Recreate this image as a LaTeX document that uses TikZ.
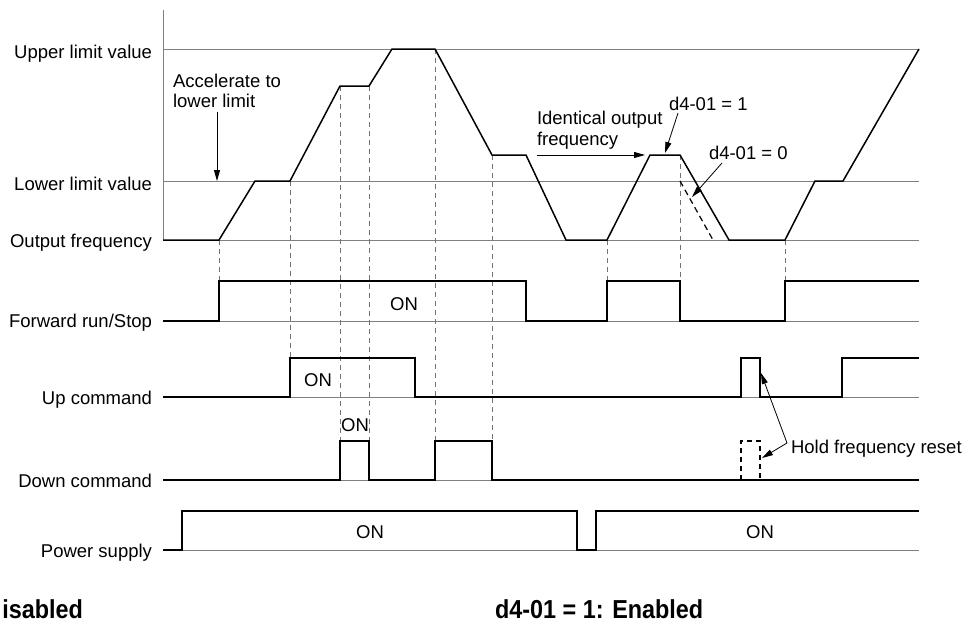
\documentclass[tikz,border=0pt]{standalone}
\usepackage{fontspec}
\setmainfont{Liberation Sans}
\usepackage{graphicx}
\usetikzlibrary{arrows.meta}
\definecolor{refgray}{gray}{0.5}
\definecolor{dashgray}{gray}{0.45}
\begin{document}
\begin{tikzpicture}[x=1pt,y=-1pt,
  every node/.style={font=\fontsize{18.5}{21}\selectfont, inner sep=0pt, outer sep=0pt},
  refline/.style={draw=refgray, line width=0.9pt},
  trace/.style={draw=black, line width=1.5pt, line join=miter},
  guide/.style={draw=dashgray, line width=0.9pt, dash pattern=on 5pt off 4pt},
  altpath/.style={draw=black, line width=1.2pt, dash pattern=on 6pt off 4pt},
  arr/.style={draw=black, line width=0.8pt, -{Triangle[length=11pt,width=6pt]}},
  rowlabel/.style={anchor=base east},
  onlabel/.style={anchor=center},
  note/.style={align=left, anchor=north west},
  footer/.style={font=\bfseries\fontsize{26}{28}\selectfont}
]
\useasboundingbox (0,0) rectangle (963,624);

% reference lines
\draw[refline] (163,10) -- (163,240);
\foreach \yy in {49,181,240,321,397,480,550}
  \draw[refline] (163,\yy) -- (919,\yy);

% row labels
\node[rowlabel] (lupper) at (152,58) {Upper limit value};
\node[rowlabel] (llower) at (152,190) {Lower limit value};
\node[rowlabel] (lout)   at (152,247) {Output frequency};
\node[rowlabel] (lfwd)   at (152,327) {Forward run/Stop};
\node[rowlabel] (lup)    at (152,404) {Up command};
\node[rowlabel] (ldown)  at (152,487) {Down command};
\node[rowlabel] (lpow)   at (152,557) {Power supply};

% guide dashed verticals
\draw[guide] (219,240) -- (219,281);
\draw[guide] (290,181) -- (290,358);
\draw[guide] (340,86) -- (340,441);
\draw[guide] (369,86) -- (369,441);
\draw[guide] (435,49) -- (435,441);
\draw[guide] (492,155) -- (492,441);
\draw[guide] (607,240) -- (607,281);
\draw[guide] (680,155) -- (680,281);
\draw[guide] (785,240) -- (785,281);

% output frequency trace
\draw[trace] (163,240) -- (219,240) -- (255,181) -- (290,181) -- (340,86) -- (369,86)
  -- (392,49) -- (435,49) -- (492,155) -- (526,155) -- (566,240) -- (607,240)
  -- (650,155) -- (680,155) -- (729,240) -- (785,240) -- (815,181) -- (843,181) -- (919,49);
\draw[altpath] (680,181) -- (713,240);

% forward run / stop
\draw[trace] (163,321) -- (219,321) -- (219,281) -- (526,281) -- (526,321) -- (607,321)
  -- (607,281) -- (680,281) -- (680,321) -- (785,321) -- (785,281) -- (919,281);
% up command
\draw[trace] (163,397) -- (290,397) -- (290,358) -- (415,358) -- (415,397) -- (741,397)
  -- (741,358) -- (760,358) -- (760,397) -- (842,397) -- (842,358) -- (919,358);
% down command
\draw[trace] (163,480) -- (340,480) -- (340,441) -- (369,441) -- (369,480) -- (435,480)
  -- (435,441) -- (492,441) -- (492,480) -- (919,480);
\draw[draw=black, line width=1.2pt, dash pattern=on 5pt off 4pt] (741,480) -- (741,441) -- (760,441) -- (760,480);
% power supply
\draw[trace] (163,550) -- (182,550) -- (182,511) -- (577,511) -- (577,550) -- (596,550)
  -- (596,511) -- (919,511);

% ON labels
\node[onlabel] (onfwd)  at (404,304) {ON};
\node[onlabel] (onup)   at (318,380) {ON};
\node[onlabel] (ondown) at (355,425) {ON};
\node[onlabel] (onpow1) at (370,532) {ON};
\node[onlabel] (onpow2) at (760,532) {ON};

% annotations
\node[note] (acc) at (173,74) {Accelerate to\\[-1pt]lower limit};
\coordinate (accTip) at (217,181);
\draw[arr] ([yshift=-4pt]acc.south -| accTip) -- (accTip);

\node[note] (ident) at (537,111) {Identical output\\frequency};
\coordinate (identTip) at (645,155);
\draw[arr] (ident.west |- identTip) -- (identTip);

\node[anchor=base west] (d1) at (669,110) {d4-01 = 1};
\coordinate (d1Tip) at (665,153);
\draw[arr] (678,113) -- (d1Tip);

\node[anchor=base west] (d0) at (709,159) {d4-01 = 0};
\coordinate (d0Tip) at (692,197);
\draw[arr] (722,163) -- (d0Tip);

\node[anchor=base west] (hold) at (791,453) {Hold frequency reset};
\coordinate (holdFrom) at (787,443);
\coordinate (holdTipA) at (761,373);
\coordinate (holdTipB) at (762,458);
\draw[arr] (holdFrom) -- (holdTipA);
\draw[arr] (holdFrom) -- (holdTipB);

% footer captions
\node[footer, anchor=base east] (capL) at (83,618) {\scalebox{0.9}[1]{isabled}};
\node[footer, anchor=base west] (capR) at (495,618) {\scalebox{0.9}[1]{d4-01 = 1: Enabled}};
\end{tikzpicture}
\end{document}
